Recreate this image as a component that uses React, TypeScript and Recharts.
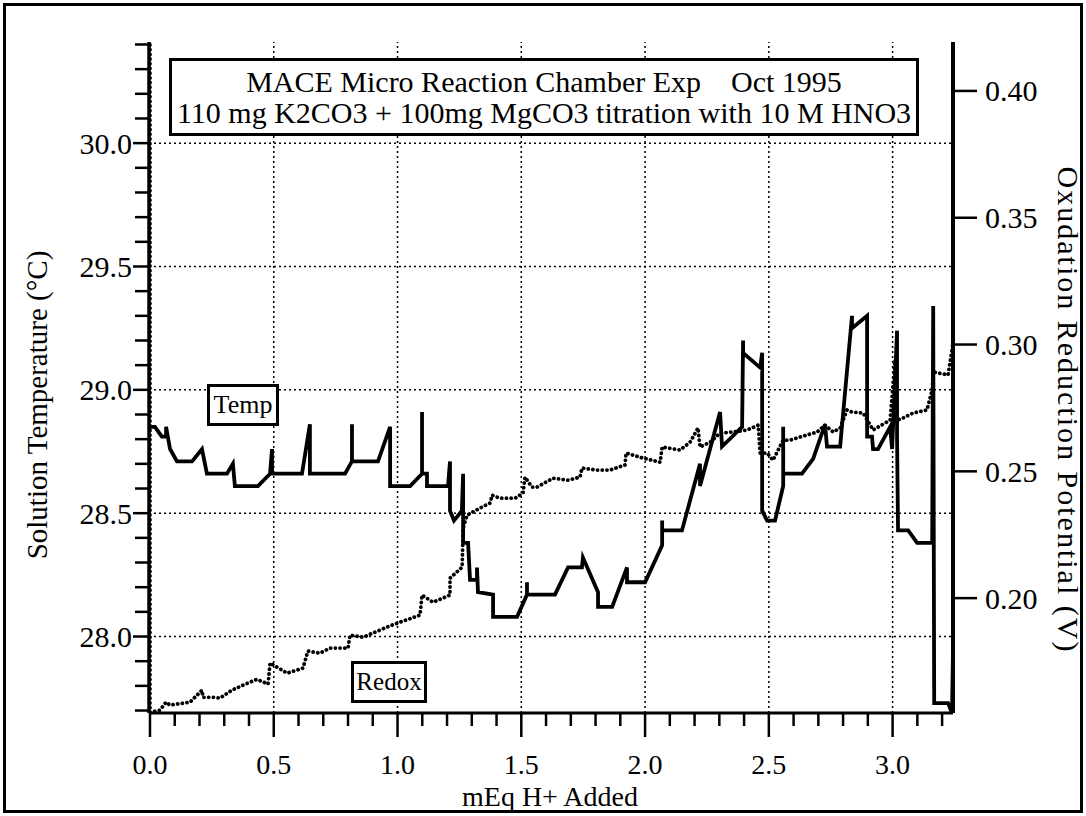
import { ComposedChart, Line, XAxis, YAxis, ReferenceLine } from "recharts";

// mEq H+ added vs solution temperature (degC)
const tempX = [0, 0.02, 0.048, 0.065, 0.065, 0.081, 0.109, 0.17, 0.21, 0.23, 0.311, 0.335, 0.343, 0.436, 0.485, 0.493, 0.493, 0.614, 0.646, 0.646, 0.788, 0.816, 0.816, 0.816, 0.921, 0.97, 0.97, 1.051, 1.099, 1.099, 1.099, 1.119, 1.119, 1.204, 1.212, 1.212, 1.228, 1.26, 1.265, 1.265, 1.285, 1.293, 1.321, 1.321, 1.325, 1.386, 1.386, 1.483, 1.523, 1.523, 1.523, 1.636, 1.689, 1.745, 1.749, 1.81, 1.81, 1.867, 1.927, 1.927, 2.0, 2.069, 2.069, 2.069, 2.149, 2.222, 2.222, 2.303, 2.311, 2.392, 2.396, 2.396, 2.465, 2.473, 2.473, 2.493, 2.525, 2.558, 2.558, 2.558, 2.634, 2.679, 2.727, 2.735, 2.788, 2.836, 2.836, 2.897, 2.897, 2.917, 2.921, 2.941, 2.99, 2.998, 3.018, 3.018, 3.022, 3.063, 3.099, 3.16, 3.164, 3.168, 3.224, 3.24, 3.244];
const tempY = [28.85, 28.85, 28.81, 28.81, 28.85, 28.76, 28.71, 28.71, 28.76, 28.66, 28.66, 28.7, 28.61, 28.61, 28.66, 28.76, 28.66, 28.66, 28.86, 28.66, 28.66, 28.71, 28.86, 28.71, 28.71, 28.85, 28.61, 28.61, 28.66, 28.91, 28.66, 28.66, 28.61, 28.61, 28.71, 28.51, 28.47, 28.51, 28.66, 28.38, 28.38, 28.23, 28.23, 28.28, 28.18, 28.17, 28.08, 28.08, 28.17, 28.22, 28.17, 28.17, 28.28, 28.28, 28.32, 28.18, 28.12, 28.12, 28.28, 28.22, 28.22, 28.37, 28.47, 28.43, 28.43, 28.7, 28.61, 28.91, 28.77, 28.85, 29.2, 29.15, 29.09, 29.15, 28.51, 28.47, 28.47, 28.61, 28.85, 28.66, 28.66, 28.72, 28.86, 28.77, 28.77, 29.3, 29.25, 29.3, 28.81, 28.81, 28.76, 28.76, 28.85, 28.76, 29.24, 28.8, 28.43, 28.43, 28.38, 28.38, 29.34, 27.73, 27.73, 27.69, 27.94];

// mEq H+ added vs oxidation reduction potential (V)
const redoxX = [0, 0, 0.04, 0.065, 0.081, 0.162, 0.21, 0.214, 0.251, 0.283, 0.331, 0.376, 0.432, 0.477, 0.485, 0.513, 0.554, 0.618, 0.638, 0.687, 0.727, 0.8, 0.808, 0.861, 0.958, 0.998, 1.091, 1.099, 1.143, 1.212, 1.212, 1.261, 1.265, 1.281, 1.333, 1.374, 1.382, 1.414, 1.475, 1.507, 1.515, 1.543, 1.564, 1.628, 1.689, 1.737, 1.745, 1.806, 1.859, 1.919, 1.923, 1.992, 2.061, 2.069, 2.141, 2.182, 2.214, 2.222, 2.263, 2.303, 2.356, 2.412, 2.457, 2.465, 2.493, 2.517, 2.558, 2.586, 2.626, 2.695, 2.727, 2.76, 2.788, 2.816, 2.836, 2.881, 2.921, 2.99, 3.01, 3.018, 3.042, 3.083, 3.139, 3.16, 3.164, 3.224, 3.24, 3.244, 3.244];
const redoxY = [0.42, 0.155, 0.1558, 0.159, 0.1578, 0.159, 0.1637, 0.1609, 0.1609, 0.1606, 0.1637, 0.1657, 0.168, 0.1661, 0.1744, 0.1728, 0.1704, 0.1724, 0.1791, 0.1783, 0.1803, 0.1803, 0.1854, 0.1846, 0.1886, 0.1901, 0.1933, 0.2012, 0.1984, 0.2012, 0.2079, 0.2122, 0.2276, 0.2327, 0.2355, 0.2375, 0.2406, 0.2394, 0.2394, 0.2414, 0.2477, 0.2438, 0.2438, 0.2473, 0.2465, 0.2477, 0.2513, 0.2505, 0.2505, 0.2525, 0.2572, 0.2552, 0.2536, 0.2596, 0.2584, 0.2615, 0.2671, 0.2596, 0.2615, 0.2651, 0.2655, 0.2663, 0.2682, 0.2572, 0.2572, 0.2544, 0.2623, 0.2623, 0.2635, 0.2655, 0.2682, 0.2655, 0.2671, 0.2742, 0.2734, 0.273, 0.2663, 0.2702, 0.2939, 0.2702, 0.271, 0.273, 0.2742, 0.2821, 0.2892, 0.288, 0.2978, 0.301, 0.42];

const xLabels = ["0.0", "0.5", "1.0", "1.5", "2.0", "2.5", "3.0"];
const tempLabels = ["28.0", "28.5", "29.0", "29.5", "30.0"];
const redoxLabels = ["0.20", "0.25", "0.30", "0.35", "0.40"];

const tempData = tempX.map((x, i) => ({ x, temp: tempY[i] }));
const redoxData = redoxX.map((x, i) => ({ x, redox: redoxY[i] }));

// minor ticks every 0.1
const xTicks = Array.from({ length: 33 }, (_, i) => i / 10);
const tempTicks = Array.from({ length: 28 }, (_, i) => Math.round(277 + i) / 10);
const redoxTicks = redoxLabels.map(Number);

const FONT = "'Liberation Serif', 'Times New Roman', serif";
const isMajor = (v: number) => Math.abs(v * 2 - Math.round(v * 2)) < 1e-6;

function BottomTick({ x, y, payload }: any) {
  const v = payload.value;
  const major = isMajor(v);
  const label = xLabels.find((l) => Math.abs(Number(l) - v) < 1e-6);
  return (
    <g>
      <line x1={x} x2={x} y1={y} y2={y + (major ? 24 : 13)} stroke="#000" strokeWidth={2.5} />
      {major && label && (
        <text x={x} y={y + 51} textAnchor="middle" dominantBaseline="central" fontFamily={FONT} fontSize={28} fill="#000">
          {label}
        </text>
      )}
    </g>
  );
}

function LeftTick({ x, y, payload }: any) {
  const v = payload.value;
  const major = isMajor(v);
  const label = tempLabels.find((l) => Math.abs(Number(l) - v) < 1e-6);
  return (
    <g>
      <line x1={x - (major ? 16 : 14)} x2={x} y1={y} y2={y} stroke="#000" strokeWidth={2.5} />
      {label && (
        <text x={x - 17} y={y} textAnchor="end" dominantBaseline="central" fontFamily={FONT} fontSize={30} fill="#000">
          {label}
        </text>
      )}
    </g>
  );
}

function RightTick({ x, y, payload }: any) {
  const v = payload.value;
  const label = redoxLabels.find((l) => Math.abs(Number(l) - v) < 1e-6);
  return (
    <g>
      <line x1={x} x2={x + 24} y1={y} y2={y} stroke="#000" strokeWidth={2.5} />
      <text x={x + 32} y={y} textAnchor="start" dominantBaseline="central" fontFamily={FONT} fontSize={30} fill="#000">
        {label}
      </text>
    </g>
  );
}

const boxStyle: any = {
  position: "absolute",
  border: "3px solid #000",
  background: "#fff",
  boxSizing: "border-box",
  fontFamily: FONT,
  color: "#000",
  textAlign: "center",
};

export default function App() {
  return (
    <div style={{ position: "absolute", left: 0, top: 0, width: 1086, height: 816, background: "#fff" }}>
      <ComposedChart width={1086} height={816} margin={{ top: 42, right: 0, bottom: 0, left: 0 }}>
        <XAxis
          dataKey="x"
          type="number"
          domain={[-0.004, 3.244]}
          allowDataOverflow
          ticks={xTicks}
          interval={0}
          height={103}
          tickSize={0}
          tickMargin={0}
          tickLine={false}
          axisLine={{ stroke: "#000", strokeWidth: 3 }}
          tick={<BottomTick />}
        />
        <YAxis
          yAxisId="t"
          orientation="left"
          type="number"
          domain={[27.69, 30.41]}
          allowDataOverflow
          ticks={tempTicks}
          interval={0}
          width={149}
          tickSize={0}
          tickMargin={0}
          tickLine={false}
          axisLine={{ stroke: "#000", strokeWidth: 3.5 }}
          tick={<LeftTick />}
        />
        <YAxis
          yAxisId="r"
          orientation="right"
          type="number"
          domain={[0.1547, 0.4193]}
          allowDataOverflow
          ticks={redoxTicks}
          interval={0}
          width={133}
          tickSize={0}
          tickMargin={0}
          tickLine={false}
          axisLine={{ stroke: "#000", strokeWidth: 4 }}
          tick={<RightTick />}
        />
        {xLabels.slice(1).map((l) => (
          <ReferenceLine key={"vx" + l} x={Number(l)} yAxisId="t" stroke="#000" strokeWidth={1.5} strokeDasharray="2 3" />
        ))}
        {tempLabels.map((l) => (
          <ReferenceLine key={"hy" + l} y={Number(l)} yAxisId="t" stroke="#000" strokeWidth={1.5} strokeDasharray="2 3" />
        ))}
        <Line
          data={redoxData}
          yAxisId="r"
          dataKey="redox"
          type="linear"
          stroke="#000"
          strokeWidth={3.8}
          strokeDasharray="0.1 4.6"
          strokeLinecap="round"
          dot={false}
          activeDot={false}
          isAnimationActive={false}
        />
        <Line
          data={tempData}
          yAxisId="t"
          dataKey="temp"
          type="linear"
          stroke="#000"
          strokeWidth={3.8}
          dot={false}
          activeDot={false}
          isAnimationActive={false}
        />
      </ComposedChart>

      <div
        style={{
          position: "absolute",
          left: 3,
          top: 3,
          width: 1080,
          height: 810,
          border: "3px solid #000",
          boxSizing: "border-box",
          pointerEvents: "none",
        }}
      />

      <div style={{ ...boxStyle, left: 169, top: 58, width: 750, height: 78, fontSize: 30, lineHeight: "31px", paddingTop: 5, whiteSpace: "pre" }}>
        {"MACE Micro Reaction Chamber Exp    Oct 1995\n110 mg K2CO3 + 100mg MgCO3 titration with 10 M HNO3"}
      </div>

      <div style={{ ...boxStyle, left: 207, top: 384, width: 72, height: 42, fontSize: 26, lineHeight: "36px" }}>Temp</div>
      <div style={{ ...boxStyle, left: 351, top: 661, width: 76, height: 42, fontSize: 25, lineHeight: "36px" }}>Redox</div>

      <div
        style={{
          position: "absolute",
          left: 37,
          top: 405,
          transform: "translate(-50%, -50%) rotate(-90deg)",
          fontFamily: FONT,
          fontSize: 29,
          whiteSpace: "nowrap",
        }}
      >
        Solution Temperature (°C)
      </div>
      <div
        style={{
          position: "absolute",
          left: 1068,
          top: 410,
          transform: "translate(-50%, -50%) rotate(90deg)",
          fontFamily: FONT,
          fontSize: 30,
          letterSpacing: 2,
          whiteSpace: "nowrap",
        }}
      >
        Oxudation Reduction Potential (V)
      </div>
      <div
        style={{
          position: "absolute",
          left: 550,
          top: 797,
          transform: "translate(-50%, -50%)",
          fontFamily: FONT,
          fontSize: 28,
          lineHeight: 1,
          whiteSpace: "nowrap",
        }}
      >
        mEq H+ Added
      </div>
    </div>
  );
}
